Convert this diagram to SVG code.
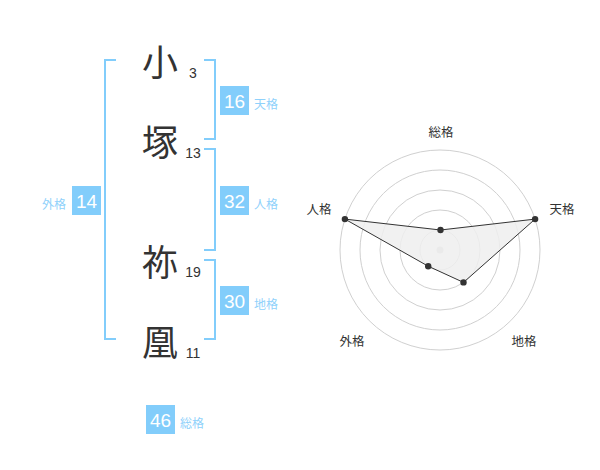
<svg xmlns="http://www.w3.org/2000/svg" width="600" height="470" viewBox="0 0 600 470">
<style>
.ch{font-family:"Noto Sans CJK JP","Noto Sans CJK SC",sans-serif;font-size:36px;fill:#333;text-anchor:middle;dominant-baseline:central}
.num{font-family:"Liberation Sans",Arial,sans-serif;font-size:14px;fill:#333;text-anchor:middle;dominant-baseline:central}
.br{fill:none;stroke:#82cdfb;stroke-width:2}
.box{fill:#82cdfb}
.bt{font-family:"Liberation Sans",Arial,sans-serif;font-size:19px;fill:#fff;text-anchor:middle;dominant-baseline:central}
.lb{font-family:"Noto Sans CJK JP","Noto Sans CJK SC",sans-serif;font-size:12px;fill:#8fd1fb;dominant-baseline:central}
.ring{fill:none;stroke:#d0d0d0;stroke-width:1}
.rl{font-family:"Noto Sans CJK JP","Noto Sans CJK SC",sans-serif;font-size:12.5px;fill:#333;text-anchor:middle;dominant-baseline:central}
.pt{fill:#333}
</style>
<g id="chars">
<text class="ch" x="160" y="60">小</text>
<text class="ch" x="160" y="140">塚</text>
<text class="ch" x="160" y="260">祢</text>
<text class="ch" x="160" y="340">凰</text>
<text class="num" x="193" y="73">3</text>
<text class="num" x="193" y="153">13</text>
<text class="num" x="193" y="272">19</text>
<text class="num" x="193" y="353">11</text>
</g>
<g id="brackets">
<path class="br" d="M116,60 H105 V339 H116"/>
<path class="br" d="M204,60 H215 V139 H204"/>
<path class="br" d="M204,149 H215 V250 H204"/>
<path class="br" d="M204,260 H215 V339 H204"/>
</g>
<g id="tenkaku">
<rect class="box" x="220" y="86" width="29" height="29"/>
<text class="bt" x="234.5" y="101">16</text>
<text class="lb" x="254" y="103">天格</text>
</g>
<g id="jinkaku">
<rect class="box" x="220" y="186" width="29" height="29"/>
<text class="bt" x="234.5" y="201">32</text>
<text class="lb" x="254" y="203">人格</text>
</g>
<g id="chikaku">
<rect class="box" x="220" y="286" width="29" height="29"/>
<text class="bt" x="234.5" y="301">30</text>
<text class="lb" x="254" y="303">地格</text>
</g>
<g id="gaikaku">
<rect class="box" x="72" y="186" width="29" height="29"/>
<text class="bt" x="86.5" y="201">14</text>
<text class="lb" x="66" y="203" text-anchor="end">外格</text>
</g>
<g id="soukaku">
<rect class="box" x="146" y="405" width="29" height="29"/>
<text class="bt" x="160.5" y="420">46</text>
<text class="lb" x="180" y="422">総格</text>
</g>
<g id="radar">
<circle class="ring" cx="440" cy="250" r="20"/>
<circle class="ring" cx="440" cy="250" r="40"/>
<circle class="ring" cx="440" cy="250" r="60"/>
<circle class="ring" cx="440" cy="250" r="80"/>
<circle class="ring" cx="440" cy="250" r="100"/>
<circle cx="440" cy="250" r="3.5" fill="#ccc"/>
<polygon points="440.5,230 535.1,219.1 463.5,282.4 428.2,266.2 344.9,219.1" fill="#eee" fill-opacity="0.85" stroke="#333" stroke-width="1"/>
<circle class="pt" cx="440.5" cy="230" r="3.2"/>
<circle class="pt" cx="535.1" cy="219.1" r="3.2"/>
<circle class="pt" cx="463.5" cy="282.4" r="3.2"/>
<circle class="pt" cx="428.2" cy="266.2" r="3.2"/>
<circle class="pt" cx="344.9" cy="219.1" r="3.2"/>
<text class="rl" x="441" y="131">総格</text>
<text class="rl" x="562" y="208">天格</text>
<text class="rl" x="319" y="208">人格</text>
<text class="rl" x="352" y="340">外格</text>
<text class="rl" x="524" y="340">地格</text>
</g>
</svg>
